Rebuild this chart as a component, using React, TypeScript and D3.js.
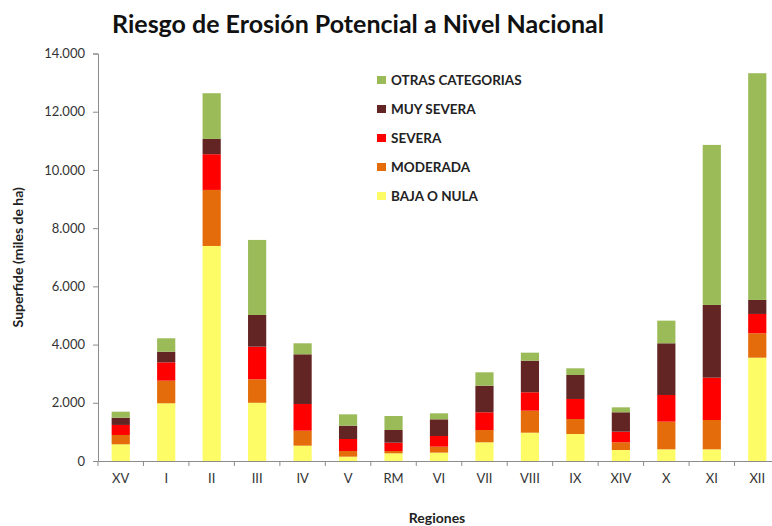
import * as d3 from "d3";
import React, { useEffect, useRef } from "react";

// regiones de Chile, de norte a sur
const regions = ["XV", "I", "II", "III", "IV", "V", "RM", "VI", "VII", "VIII", "IX", "XIV", "X", "XI", "XII"];

// miles de ha por categoría de riesgo
const bajaONula = [574, 1983, 7388, 2000, 527, 149, 264, 287, 642, 973, 928, 378, 401, 401, 3550];
const moderada = [320, 777, 1925, 807, 515, 195, 80, 206, 423, 756, 515, 264, 951, 1008, 838];
const severa = [345, 630, 1227, 1121, 917, 412, 286, 366, 609, 632, 688, 366, 916, 1454, 664];
const muySevera = [250, 366, 525, 1089, 1707, 458, 435, 573, 914, 1086, 824, 666, 1776, 2498, 481];
const otrasCategorias = [206, 460, 1571, 2578, 378, 389, 481, 206, 459, 275, 230, 170, 778, 5498, 7790];

const yTicks = [0, 2000, 4000, 6000, 8000, 10000, 12000, 14000];

const series = [
  { key: "baja", label: "BAJA O NULA", color: "#fdfc66", values: bajaONula },
  { key: "moderada", label: "MODERADA", color: "#e46c0a", values: moderada },
  { key: "severa", label: "SEVERA", color: "#fe0000", values: severa },
  { key: "muySevera", label: "MUY SEVERA", color: "#632523", values: muySevera },
  { key: "otras", label: "OTRAS CATEGORIAS", color: "#9bbb59", values: otrasCategorias },
];

const font = "Lato, 'Open Sans', sans-serif";

const App: React.FC = () => {
  const xAxisRef = useRef<SVGGElement | null>(null);
  const yAxisRef = useRef<SVGGElement | null>(null);

  const width = 772,
    height = 526;
  const margin = { top: 53.5, left: 98, bottom: 65, right: -8 };

  const rows = regions.map((r, i) => {
    const row: any = { region: r };
    series.forEach((s) => (row[s.key] = s.values[i]));
    return row;
  });
  const stack = d3.stack<any>().keys(series.map((s) => s.key))(rows);

  const x = d3
    .scaleBand()
    .domain(regions)
    .range([margin.left, width - margin.right])
    .paddingInner(0.6)
    .paddingOuter(0.3);

  const y = d3.scaleLinear().domain([0, 14000]).range([height - margin.bottom, margin.top]);

  const fmt = (v: number) => d3.format(",")(v).replace(/,/g, ".");

  useEffect(() => {
    if (!xAxisRef.current || !yAxisRef.current) return;
    const xa = d3.select(xAxisRef.current);
    xa.selectAll("*").remove();
    xa.call(d3.axisBottom(x).tickSize(0).tickPadding(13));
    // tick marks at band borders
    const step = x.step();
    const edges = d3.range(regions.length + 1).map((i) => margin.left + i * step);
    xa.selectAll("line.edge")
      .data(edges)
      .enter()
      .append("line")
      .attr("class", "edge")
      .attr("x1", (d) => d)
      .attr("x2", (d) => d)
      .attr("y1", 0)
      .attr("y2", 5)
      .attr("stroke", "#8c8c8c");
    xa.select(".domain").attr("stroke", "#8c8c8c");
    xa.selectAll(".tick text").attr("font-family", font).attr("font-size", 13).attr("fill", "#333");

    const ya = d3.select(yAxisRef.current);
    ya.selectAll("*").remove();
    ya.call(
      d3
        .axisLeft(y)
        .tickValues(yTicks)
        .tickSize(5)
        .tickPadding(8)
        .tickFormat((d) => fmt(d as number))
    );
    ya.select(".domain").attr("stroke", "#8c8c8c");
    ya.selectAll(".tick line").attr("stroke", "#8c8c8c");
    ya.selectAll(".tick text").attr("font-family", font).attr("font-size", 13).attr("fill", "#333");
  }, []);

  const legendOrder = [...series].reverse();

  return (
    <svg width={width} height={height} style={{ position: "absolute", left: 0, top: 0 }}>
      <rect width={width} height={height} fill="#fff" />
      <text x={358} y={33} textAnchor="middle" fontFamily={font} fontWeight="bold" fontSize={25} fill="#111">
        Riesgo de Erosión Potencial a Nivel Nacional
      </text>
      {stack.map((layer, li) => (
        <g key={layer.key} fill={series[li].color}>
          {layer.map((d, i) => (
            <rect
              key={regions[i]}
              x={x(regions[i])}
              y={y(d[1])}
              width={x.bandwidth()}
              height={y(d[0]) - y(d[1])}
            />
          ))}
        </g>
      ))}
      <g ref={xAxisRef} transform={`translate(0, ${height - margin.bottom})`} />
      <g ref={yAxisRef} transform={`translate(${margin.left}, 0)`} />
      <text
        transform={`translate(23, ${(margin.top + height - margin.bottom) / 2}) rotate(-90)`}
        textAnchor="middle"
        fontFamily={font}
        fontWeight="bold"
        fontSize={14}
        fill="#222"
      >
        Superfide (miles de ha)
      </text>
      <text x={437} y={523} textAnchor="middle" fontFamily={font} fontWeight="bold" fontSize={14} fill="#222">
        Regiones
      </text>
      <g transform="translate(377, 80)">
        {legendOrder.map((s, i) => (
          <g key={s.key} transform={`translate(0, ${i * 29})`}>
            <rect x={0} y={-4} width={9} height={8} fill={s.color} />
            <text x={14} y={5} fontFamily={font} fontWeight="bold" fontSize={13.5} fill="#222">
              {s.label}
            </text>
          </g>
        ))}
      </g>
    </svg>
  );
};

export default App;
